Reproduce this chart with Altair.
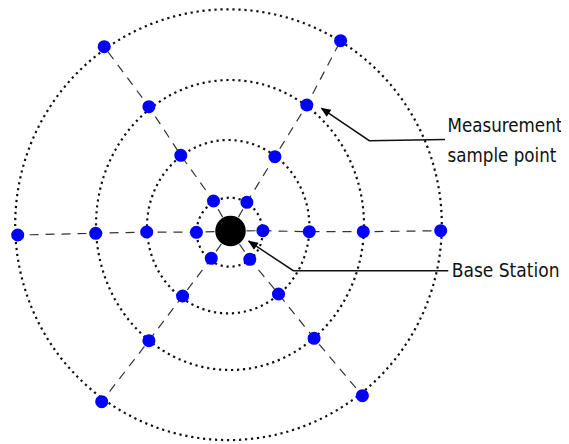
import altair as alt
import pandas as pd

# ---------------- data ----------------
# base station (centre of the measurement rings)
bs_x = [230.5]
bs_y = [231.0]

# dotted measurement rings: centre and half-extents (pixels of the figure)
ring_id = [1, 2, 3, 4]
ring_cx = [229.7, 228.2, 230.0, 228.5]
ring_cy = [232.2, 226.7, 225.0, 224.7]
ring_rx = [33.0, 81.2, 134.0, 213.3]
ring_ry = [34.5, 86.7, 145.0, 215.4]

# measurement sample points, one list per spoke (ring 1 .. ring 4)
spokes = ["E", "NE", "NW", "W", "SW", "SE"]
sample_x = {
    "E":  [262.9, 309.3, 363.3, 440.7],
    "NE": [246.9, 274.9, 306.8, 340.6],
    "NW": [213.5, 180.8, 148.9, 104.2],
    "W":  [196.4, 146.7, 95.7, 17.7],
    "SW": [211.3, 182.6, 148.9, 101.7],
    "SE": [249.8, 278.5, 314.1, 362.4],
}
sample_y = {
    "E":  [230.7, 231.7, 231.7, 230.7],
    "NE": [202.3, 156.7, 105.0, 40.7],
    "NW": [201.0, 155.3, 106.7, 46.7],
    "W":  [232.3, 232.0, 233.3, 235.0],
    "SW": [258.3, 296.0, 340.7, 401.7],
    "SE": [259.3, 294.0, 338.3, 395.7],
}

# annotation labels
label_text = ["Measurement", "sample point", "Base Station"]
label_x = [447.5, 447.5, 451.7]
label_y = [131.7, 161.7, 276.7]
label_size = [18.6, 18.6, 19.0]

# leader lines (label end -> knee -> arrow tip)
leader_name = ["meas", "meas", "meas", "bs", "bs", "bs"]
leader_order = [0, 1, 2, 0, 1, 2]
leader_x = [445.0, 369.3, 321.5, 448.3, 293.3, 248.5]
leader_y = [139.5, 140.7, 108.3, 270.7, 270.7, 241.0]

# arrow heads (tip position, direction in degrees clockwise from up)
head_x = [320.7, 248.0]
head_y = [107.7, 240.7]
head_angle = [304, 304]

# ---------------- tables ----------------
rings = pd.DataFrame({"ring": ring_id, "cx": ring_cx, "cy": ring_cy,
                      "rx": ring_rx, "ry": ring_ry})

spoke_rows = []
for s in spokes:
    spoke_rows.append({"spoke": s, "k": 0, "x": bs_x[0], "y": bs_y[0]})
    for i, (xx, yy) in enumerate(zip(sample_x[s], sample_y[s])):
        spoke_rows.append({"spoke": s, "k": i + 1, "x": xx, "y": yy})
spoke_df = pd.DataFrame(spoke_rows)
points_df = spoke_df[spoke_df["k"] > 0]

bs_df = pd.DataFrame({"x": bs_x, "y": bs_y})
labels_df = pd.DataFrame({"text": label_text, "x": label_x, "y": label_y,
                          "size": label_size})
leader_df = pd.DataFrame({"name": leader_name, "k": leader_order,
                          "x": leader_x, "y": leader_y})
head_df = pd.DataFrame({"x": head_x, "y": head_y, "angle": head_angle})

# plot area starts at the page's 8px margin; 1 data unit = 1 pixel
W, H = 553, 436
xs = alt.Scale(domain=[8, 8 + W], nice=False, zero=False)
ys = alt.Scale(domain=[8, 8 + H], nice=False, zero=False, reverse=True)
X = lambda: alt.X("x:Q", scale=xs, axis=None)
Y = lambda: alt.Y("y:Q", scale=ys, axis=None)

ring_layer = (
    alt.Chart(rings)
    .transform_calculate(t="sequence(0, 361, 1)")
    .transform_flatten(["t"])
    .transform_calculate(
        x="datum.cx + datum.rx * cos(datum.t * PI / 180)",
        y="datum.cy + datum.ry * sin(datum.t * PI / 180)",
    )
    .mark_line(color="#111111", strokeWidth=2.2, strokeDash=[2.2, 3.8],
               strokeCap="butt")
    .encode(x=X(), y=Y(), detail="ring:N", order="t:Q")
)

spoke_layer = (
    alt.Chart(spoke_df)
    .mark_line(color="#333333", strokeWidth=1.2, strokeDash=[9, 7])
    .encode(x=X(), y=Y(), detail="spoke:N", order="k:Q")
)

point_layer = (
    alt.Chart(points_df)
    .mark_point(shape="circle", filled=True, opacity=1, color="#0000ff",
                size=170, strokeWidth=0)
    .encode(x=X(), y=Y())
)

bs_layer = (
    alt.Chart(bs_df)
    .mark_point(shape="circle", filled=True, opacity=1, color="#000000",
                size=930, strokeWidth=0)
    .encode(x=X(), y=Y())
)

leader_layer = (
    alt.Chart(leader_df)
    .mark_line(color="#111111", strokeWidth=1.5)
    .encode(x=X(), y=Y(), detail="name:N", order="k:Q")
)

head_layer = (
    alt.Chart(head_df)
    .mark_point(shape="M0,0L0.42,1L-0.42,1Z", filled=True, opacity=1,
                color="#000000", size=400, strokeWidth=0)
    .encode(x=X(), y=Y(), angle=alt.Angle("angle:Q", scale=None))
)

label_layer = (
    alt.Chart(labels_df)
    .mark_text(align="left", baseline="alphabetic",
               font="DejaVu Sans Condensed, DejaVu Sans", color="#111111")
    .encode(x=X(), y=Y(), text="text:N",
            size=alt.Size("size:Q", scale=None))
)

chart = (
    alt.layer(ring_layer, spoke_layer, leader_layer, point_layer, bs_layer,
              head_layer, label_layer)
    .properties(width=W, height=H, padding=0,
                autosize=alt.AutoSizeParams(type="none"),
                background="white")
    .configure_view(strokeWidth=0)
)

chart.save("out.html", embed_options={"renderer": "svg", "actions": False})
